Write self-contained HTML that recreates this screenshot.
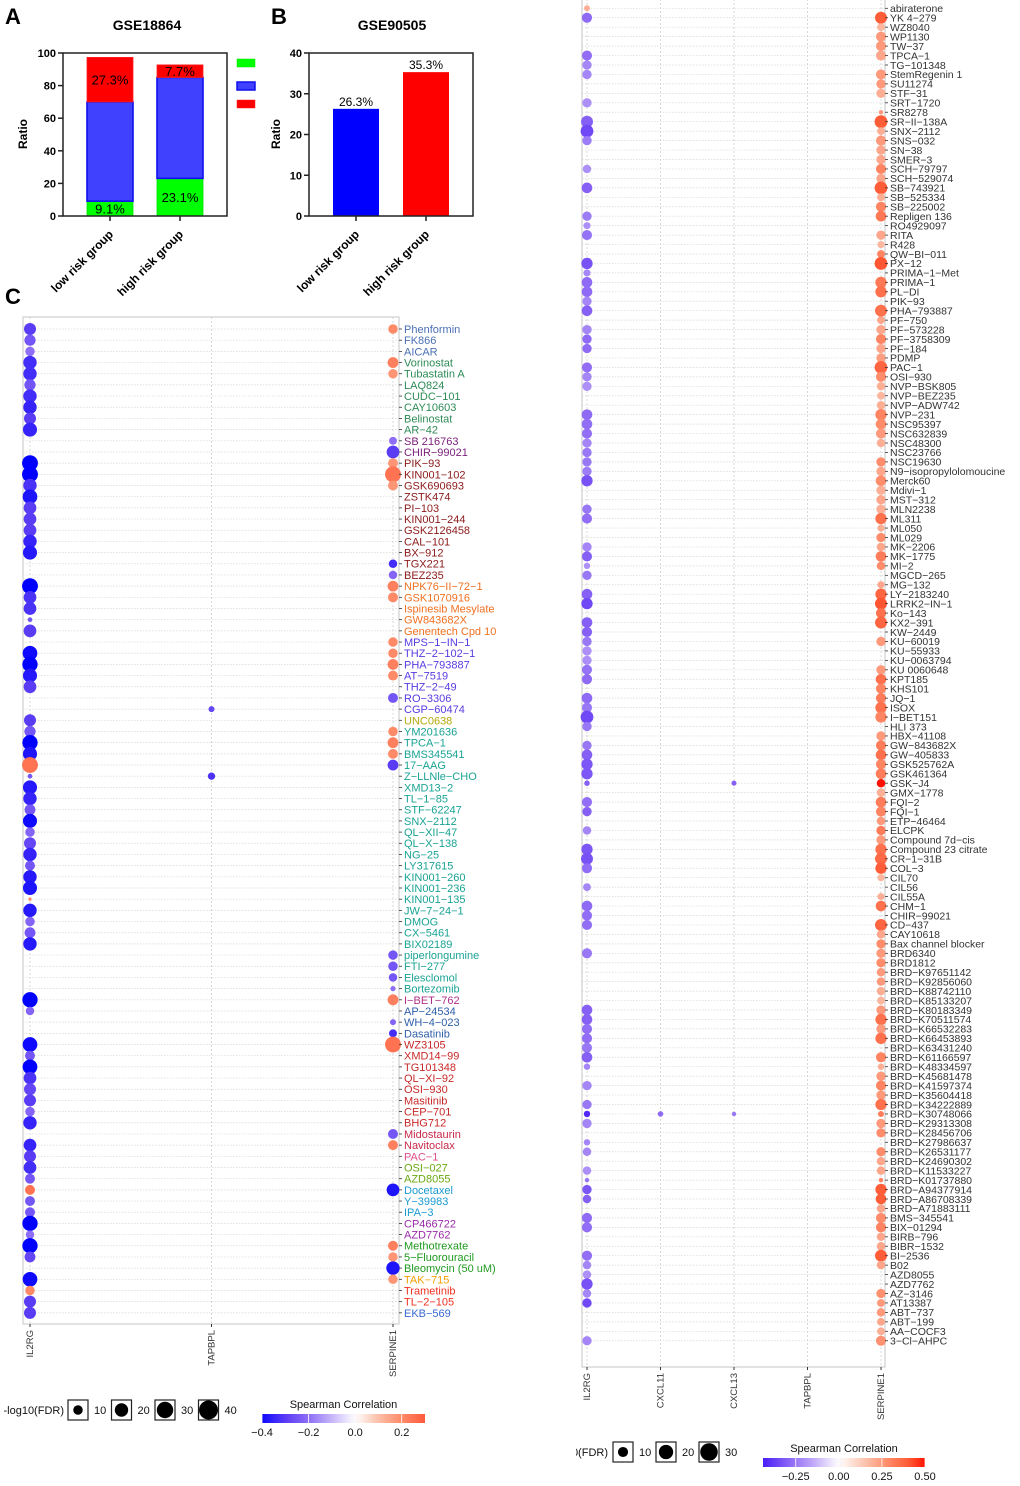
<!DOCTYPE html>
<html><head><meta charset="utf-8"><style>
html,body{margin:0;padding:0;background:#fff;}
svg{display:block;font-family:"Liberation Sans",Arial,sans-serif;}
</style></head><body>
<svg id="fig" width="1020" height="1486" viewBox="0 0 1020 1486" xmlns="http://www.w3.org/2000/svg">
<defs><clipPath id="clipRightTitle"><rect x="576" y="1400" width="100" height="80"/></clipPath></defs>
<g id="gA"></g>
<g id="gB"></g>
<g id="gL"></g>
<g id="gR"></g>
</svg>
<script>
// ---------- Panel A data ----------
const aCategories = ["low risk group","high risk group"];
const aGreen = [9.1, 23.1];
const aBlue = [60.9, 61.9];
const aRed = [27.3, 7.7];
const aGreenLabels = ["9.1%","23.1%"];
const aRedLabels = ["27.3%","7.7%"];
const aTicks = [0,20,40,60,80,100];
// ---------- Panel B data ----------
const bCategories = ["low risk group","high risk group"];
const bValues = [26.3, 35.3];
const bLabels = ["26.3%","35.3%"];
const bTicks = [0,10,20,30,40];

// ---------- Left dot plot data ----------
const leftGenes = ["IL2RG","TAPBPL","SERPINE1"];
const leftDrugs = ["Phenformin","FK866","AICAR","Vorinostat","Tubastatin A","LAQ824","CUDC\u2212101","CAY10603","Belinostat","AR\u221242",
"SB 216763","CHIR\u221299021","PIK\u221293","KIN001\u2212102","GSK690693","ZSTK474","PI\u2212103","KIN001\u2212244","GSK2126458","CAL\u2212101",
"BX\u2212912","TGX221","BEZ235","NPK76\u2212II\u221272\u22121","GSK1070916","Ispinesib Mesylate","GW843682X","Genentech Cpd 10","MPS\u22121\u2212IN\u22121","THZ\u22122\u2212102\u22121",
"PHA\u2212793887","AT\u22127519","THZ\u22122\u221249","RO\u22123306","CGP\u221260474","UNC0638","YM201636","TPCA\u22121","BMS345541","17\u2212AAG",
"Z\u2212LLNle\u2212CHO","XMD13\u22122","TL\u22121\u221285","STF\u221262247","SNX\u22122112","QL\u2212XII\u221247","QL\u2212X\u2212138","NG\u221225","LY317615","KIN001\u2212260",
"KIN001\u2212236","KIN001\u2212135","JW\u22127\u221224\u22121","DMOG","CX\u22125461","BIX02189","piperlongumine","FTI\u2212277","Elesclomol","Bortezomib",
"I\u2212BET\u2212762","AP\u221224534","WH\u22124\u2212023","Dasatinib","WZ3105","XMD14\u221299","TG101348","QL\u2212XI\u221292","OSI\u2212930","Masitinib",
"CEP\u2212701","BHG712","Midostaurin","Navitoclax","PAC\u22121","OSI\u2212027","AZD8055","Docetaxel","Y\u221239983","IPA\u22123",
"CP466722","AZD7762","Methotrexate","5\u2212Fluorouracil","Bleomycin (50 uM)","TAK\u2212715","Trametinib","TL\u22122\u2212105","EKB\u2212569"];
const leftIL2RGCorr = [-0.3,-0.25,-0.2,-0.33,-0.33,-0.25,-0.33,-0.35,-0.3,-0.35,
null,null,-0.42,-0.42,-0.32,-0.38,-0.3,-0.3,-0.3,-0.35,
-0.37,null,null,-0.42,-0.32,-0.32,-0.25,-0.3,null,-0.4,
-0.42,-0.37,-0.3,null,null,-0.3,-0.25,-0.42,-0.38,0.25,
-0.25,-0.37,-0.35,-0.25,-0.4,-0.22,-0.28,-0.35,-0.25,-0.37,
-0.38,0.2,-0.37,-0.22,-0.25,-0.37,null,null,null,null,
-0.42,-0.22,null,null,-0.4,-0.25,-0.42,-0.32,-0.28,-0.3,
-0.22,-0.35,null,-0.35,-0.3,-0.33,-0.25,0.25,-0.25,-0.25,
-0.42,-0.2,-0.42,-0.28,null,-0.4,0.2,-0.3,-0.3];
const leftIL2RGSize = [16,14,10,20,20,14,20,20,16,22,
null,null,28,28,20,24,18,18,18,20,
22,null,null,28,18,18,2.4,18,null,24,
26,22,18,null,null,16,14,26,22,28,
2.4,22,20,13,22,10,16,20,11,20,
22,1.2,20,10,13,20,null,null,null,null,
26,8,null,null,24,11,24,18,16,16,
10,20,null,18,16,18,11,11,11,11,
26,8,26,13,null,24,10,16,16];
const leftTAPBPLCorr = leftDrugs.map(() => null);
const leftTAPBPLSize = leftDrugs.map(() => null);
leftTAPBPLCorr[34] = -0.28; leftTAPBPLSize[34] = 4;
leftTAPBPLCorr[40] = -0.32; leftTAPBPLSize[40] = 6;
const leftSERPINE1Corr = [0.2,null,null,0.22,0.18,null,null,null,null,null,
-0.2,-0.3,0.18,0.25,0.18,null,null,null,null,null,
null,-0.33,-0.22,0.22,0.2,null,null,null,0.2,0.2,
0.22,0.2,null,-0.25,null,null,0.2,0.22,0.2,-0.3,
null,null,null,null,null,null,null,null,null,null,
null,null,null,null,null,null,-0.25,-0.25,-0.25,-0.2,
0.22,null,-0.22,-0.33,0.25,null,null,null,null,null,
null,null,-0.25,0.22,null,null,null,-0.38,null,null,
null,null,0.22,0.18,-0.38,0.18,null,null,null];
const leftSERPINE1Size = [10,null,null,13,10,null,null,null,null,null,
7,18,11,28,11,null,null,null,null,null,
null,8,8,13,11,null,null,null,10,10,
13,11,null,11,null,null,10,13,11,13,
null,null,null,null,null,null,null,null,null,null,
null,null,null,null,null,null,10,10,8,3,
13,null,4,7,28,null,null,null,null,null,
null,null,11,11,null,null,null,18,null,null,
null,null,11,10,20,10,null,null,null];
const leftSizeLegend = [10,20,30,40];
const leftColorTicks = [-0.4,-0.2,0.0,0.2];

// ---------- Right dot plot data ----------
const rightGenes = ["IL2RG","CXCL11","CXCL13","TAPBPL","SERPINE1"];
const rightDrugs = ["abiraterone","YK 4\u2212279","WZ8040","WP1130","TW\u221237","TPCA\u22121","TG\u2212101348","StemRegenin 1","SU11274","STF\u221231",
"SRT\u22121720","SR8278","SR\u2212II\u2212138A","SNX\u22122112","SNS\u2212032","SN\u221238","SMER\u22123","SCH\u221279797","SCH\u2212529074","SB\u2212743921",
"SB\u2212525334","SB\u2212225002","Repligen 136","RO4929097","RITA","R428","QW\u2212BI\u2212011","PX\u221212","PRIMA\u22121\u2212Met","PRIMA\u22121",
"PL\u2212DI","PIK\u221293","PHA\u2212793887","PF\u2212750","PF\u2212573228","PF\u22123758309","PF\u2212184","PDMP","PAC\u22121","OSI\u2212930",
"NVP\u2212BSK805","NVP\u2212BEZ235","NVP\u2212ADW742","NVP\u2212231","NSC95397","NSC632839","NSC48300","NSC23766","NSC19630","N9\u2212isopropylolomoucine",
"Merck60","Mdivi\u22121","MST\u2212312","MLN2238","ML311","ML050","ML029","MK\u22122206","MK\u22121775","MI\u22122",
"MGCD\u2212265","MG\u2212132","LY\u22122183240","LRRK2\u2212IN\u22121","Ko\u2212143","KX2\u2212391","KW\u22122449","KU\u221260019","KU\u221255933","KU\u22120063794",
"KU 0060648","KPT185","KHS101","JQ\u22121","ISOX","I\u2212BET151","HLI 373","HBX\u221241108","GW\u2212843682X","GW\u2212405833",
"GSK525762A","GSK461364","GSK\u2212J4","GMX\u22121778","FQI\u22122","FQI\u22121","ETP\u221246464","ELCPK","Compound 7d\u2212cis","Compound 23 citrate",
"CR\u22121\u221231B","COL\u22123","CIL70","CIL56","CIL55A","CHM\u22121","CHIR\u221299021","CD\u2212437","CAY10618","Bax channel blocker",
"BRD6340","BRD1812","BRD\u2212K97651142","BRD\u2212K92856060","BRD\u2212K88742110","BRD\u2212K85133207","BRD\u2212K80183349","BRD\u2212K70511574","BRD\u2212K66532283","BRD\u2212K66453893",
"BRD\u2212K63431240","BRD\u2212K61166597","BRD\u2212K48334597","BRD\u2212K45681478","BRD\u2212K41597374","BRD\u2212K35604418","BRD\u2212K34222889","BRD\u2212K30748066","BRD\u2212K29313308","BRD\u2212K28456706",
"BRD\u2212K27986637","BRD\u2212K26531177","BRD\u2212K24690302","BRD\u2212K11533227","BRD\u2212K01737880","BRD\u2212A94377914","BRD\u2212A86708339","BRD\u2212A71883111","BMS\u2212345541","BIX\u221201294",
"BIRB\u2212796","BIBR\u22121532","BI\u22122536","B02","AZD8055","AZD7762","AZ\u22123146","AT13387","ABT\u2212737","ABT\u2212199",
"AA\u2212COCF3","3\u2212Cl\u2212AHPC"];
const rightIL2RGCorr = [0.2,-0.28,null,null,null,-0.27,-0.22,-0.22,null,null,
-0.2,null,-0.3,-0.35,-0.24,null,null,-0.2,null,-0.3,
null,null,-0.24,-0.2,-0.26,null,null,-0.33,-0.22,-0.28,
-0.28,-0.22,-0.3,null,-0.22,-0.28,-0.28,null,-0.27,-0.22,
-0.2,null,null,-0.28,-0.27,-0.27,-0.22,-0.25,-0.25,-0.24,
-0.33,null,null,-0.25,-0.27,null,null,-0.22,-0.3,-0.2,
-0.25,null,-0.3,-0.35,null,-0.3,-0.3,-0.25,-0.2,-0.2,
-0.26,-0.28,null,-0.28,-0.25,-0.35,-0.25,null,-0.25,-0.3,
-0.32,-0.32,-0.3,null,-0.27,-0.3,null,-0.22,null,-0.32,
-0.33,-0.27,null,-0.22,null,-0.28,-0.27,-0.27,null,null,
-0.25,null,null,null,null,null,-0.3,-0.3,-0.27,-0.27,
-0.25,-0.3,-0.22,null,-0.22,null,-0.25,-0.42,-0.22,null,
-0.22,-0.22,null,-0.2,-0.25,-0.32,-0.3,null,-0.28,-0.27,
null,null,-0.27,-0.22,-0.2,-0.33,-0.22,-0.35,null,null,
null,-0.22];
const rightIL2RGSize = [3.5,10,null,null,null,10,8.5,8.5,null,null,
8.5,null,14,16,8.5,null,null,7,null,11,
null,null,8.5,5,10,null,null,12.5,5,11,
11,8.5,11,null,8.5,8.5,8.5,null,10,8.5,
8.5,null,null,11,11,10,8.5,8.5,8.5,8.5,
12.5,null,null,8.5,10,null,null,8.5,10,4,
8.5,null,11,12.5,null,11,10,8.5,8.5,8.5,
10,10,null,11,10,16,8.5,null,8.5,11,
12.5,12.5,3,null,10,8.5,null,7,null,12.5,
14,10,null,6,null,11,10,10,null,null,
10,null,null,null,null,null,11,11,10,10,
10,11,4,null,8.5,null,8.5,4,8.5,null,
4,7,null,7,2,8.5,7,null,10,10,
null,null,10,7,7,12.5,7,8.5,null,null,
null,8.5];
const rightCXCL11Corr = rightDrugs.map(() => null);
const rightCXCL11Size = rightDrugs.map(() => null);
rightCXCL11Corr[117] = -0.28; rightCXCL11Size[117] = 3;
const rightCXCL13Corr = rightDrugs.map(() => null);
const rightCXCL13Size = rightDrugs.map(() => null);
rightCXCL13Corr[82] = -0.3; rightCXCL13Size[82] = 2.5;
rightCXCL13Corr[117] = -0.25; rightCXCL13Size[117] = 2;
const rightTAPBPLCorr = rightDrugs.map(() => null);
const rightTAPBPLSize = rightDrugs.map(() => null);
const rightSERPINE1Corr = [null,0.4,0.18,0.25,0.25,0.22,null,0.25,0.25,0.2,
null,0.25,0.4,0.2,0.25,0.22,0.22,0.3,0.22,0.4,
0.2,0.3,0.33,null,0.22,0.18,0.3,0.42,null,0.33,
0.35,null,0.35,0.22,0.22,0.3,0.22,0.24,0.38,0.28,
0.2,0.18,0.2,0.3,0.28,0.25,0.2,null,0.28,0.22,
0.28,0.2,0.22,0.2,0.35,0.2,0.28,0.22,0.32,0.28,
null,0.22,0.38,0.42,0.35,0.38,null,0.25,null,null,
0.25,0.35,0.3,0.32,0.35,0.3,null,0.25,0.32,0.35,
0.3,0.32,0.5,0.2,0.32,0.3,0.25,0.32,0.25,0.35,
0.37,0.4,0.18,null,0.2,0.35,null,0.38,0.22,0.28,
0.25,0.28,0.25,0.25,0.2,0.18,0.25,0.35,0.25,0.35,
null,0.3,0.2,0.25,0.3,0.25,0.35,0.32,0.25,0.28,
null,0.28,0.22,0.22,0.3,0.4,0.4,0.22,0.28,0.3,
0.22,0.22,0.4,0.22,null,null,0.27,0.25,0.25,0.22,
0.2,0.27];
const rightSERPINE1Size = [null,14,6,10,10,10,null,10,8.5,8.5,
null,2,16,6,10,8.5,8.5,10,8.5,16,
6,10,11,null,8.5,5,6,16,null,12.5,
12.5,null,14,6,8.5,10,8.5,8.5,16,10,
7,6,7,12.5,11,10,7,null,8.5,8.5,
11,8.5,8.5,8.5,12.5,5,8.5,7,11,7,
null,5,12.5,14,10,14,null,8.5,null,null,
8.5,11,10,10,12.5,12.5,null,8.5,10,11,
10,11,7,7,11,10,7,8.5,8.5,12.5,
14,12.5,5,null,5,11,null,14,7,8.5,
8.5,8.5,7,7,7,6,8.5,12.5,8.5,12.5,
null,10,4,8.5,10,8.5,12.5,3.5,8.5,8.5,
null,8.5,7,7,2,12.5,11,7,10,10,
7,7,14,7,null,null,8.5,6,7,6,
6,10];
const rightSizeLegend = [10,20,30];
const rightColorTicks = [-0.25,0.0,0.25,0.5];

// ---------- helpers ----------
const NS = "http://www.w3.org/2000/svg";
function mk(parent, tag, attrs, text){
  const e = document.createElementNS(NS, tag);
  for (const k in attrs) e.setAttribute(k, attrs[k]);
  if (text !== undefined) e.textContent = text;
  parent.appendChild(e);
  return e;
}
function hex(c){return [parseInt(c.slice(1,3),16),parseInt(c.slice(3,5),16),parseInt(c.slice(5,7),16)];}
function interp(stops, v){
  if (v <= stops[0][0]) return stops[0][1];
  if (v >= stops[stops.length-1][0]) return stops[stops.length-1][1];
  for (let i=0;i<stops.length-1;i++){
    const a=stops[i], b=stops[i+1];
    if (v>=a[0] && v<=b[0]){
      const t=(v-a[0])/(b[0]-a[0]); const ca=hex(a[1]), cb=hex(b[1]);
      return "rgb("+ca.map((x,j)=>Math.round(x+(cb[j]-x)*t)).join(",")+")";
    }
  }
}
const leftStops = [[-0.42,"#0000ff"],[-0.3,"#5a3cf5"],[-0.2,"#8e6ef6"],[-0.1,"#c6b6fa"],[0,"#ffffff"],[0.1,"#fbbfa8"],[0.2,"#ff8a68"],[0.3,"#ff5a3c"]];
const rightStops = [[-0.44,"#4a1ef8"],[-0.3,"#8660f5"],[-0.15,"#c0a8f8"],[0,"#ffffff"],[0.15,"#fcc4ae"],[0.3,"#ff8462"],[0.42,"#ff5530"],[0.5,"#ff1000"]];

// ---------- Panel A ----------
(function(){
  const g = document.getElementById("gA");
  const x0=63,x1=227,yTop=53,yBot=216;
  const ys = v => yBot - (v/100)*(yBot-yTop);
  const bx = i => 87 + i*70, bw = 46;
  let t=mk(g,"text",{x:5,y:24,"font-size":22,"font-weight":"bold"},"A");
   
  t=mk(g,"text",{x:147,y:30,"font-size":14,"font-weight":"bold","text-anchor":"middle"},"GSE18864");
   
  t=mk(g,"text",{x:27,y:134,"font-size":12,"font-weight":"bold","text-anchor":"middle",transform:"rotate(-90 27 134)"},"Ratio");
   
  aCategories.forEach((c,i)=>{
    const segs=[[0,aGreen[i],"#00ff00","#00e000"],[aGreen[i],aGreen[i]+aBlue[i],"#4040ff","#1010ee"],[aGreen[i]+aBlue[i],aGreen[i]+aBlue[i]+aRed[i],"#ff0000","#ff2020"]];
    segs.forEach((s,k)=>{
      const r=mk(g,"rect",{x:bx(i),y:ys(s[1]),width:bw,height:ys(s[0])-ys(s[1]),fill:s[2],stroke:s[3],"stroke-width":k==1?1.6:0.8});
       
    });
    let l=mk(g,"text",{x:bx(i)+bw/2,y:ys(aGreen[i]/2)+5,"font-size":13,"text-anchor":"middle"},aGreenLabels[i]);
     
    const redMid = aGreen[i]+aBlue[i]+aRed[i]/2;
    l=mk(g,"text",{x:bx(i)+bw/2,y:ys(redMid)+5,"font-size":13,"text-anchor":"middle"},aRedLabels[i]);
     
    const tx=bx(i)+bw/2;
    mk(g,"line",{x1:tx,y1:yBot,x2:tx,y2:yBot+5,stroke:"#222","stroke-width":1.5});
    l=mk(g,"text",{x:tx+4,y:yBot+19,"font-size":12,"font-weight":"bold","text-anchor":"end",transform:"rotate(-45 "+(tx+4)+" "+(yBot+19)+")"},c);
     
  });
  aTicks.forEach(v=>{
    mk(g,"line",{x1:x0-5,y1:ys(v),x2:x0,y2:ys(v),stroke:"#222","stroke-width":1.5});
    const l=mk(g,"text",{x:x0-7,y:ys(v)+4,"font-size":11,"font-weight":"bold","text-anchor":"end"},String(v));
     
  });
  const fr=mk(g,"rect",{x:x0,y:yTop,width:x1-x0,height:yBot-yTop,fill:"none",stroke:"#222","stroke-width":1.5});
   
  [["#00ff00","#00e000",63],["#4040ff","#1010ee",86],["#ff0000","#ff2020",104]].forEach((s,k)=>{
    const r=mk(g,"rect",{x:237,y:s[2]-4,width:18,height:8,fill:s[0],stroke:s[1],"stroke-width":k==1?1.5:0.5});
     
  });
})();

// ---------- Panel B ----------
(function(){
  const g = document.getElementById("gB");
  const x0=309,x1=473,yTop=53,yBot=216;
  const ys = v => yBot - (v/40)*(yBot-yTop);
  const bx = i => 333 + i*70, bw = 46;
  const cols=["#0000ff","#ff0000"];
  let t=mk(g,"text",{x:271,y:24,"font-size":22,"font-weight":"bold"},"B");
   
  t=mk(g,"text",{x:392,y:30,"font-size":14,"font-weight":"bold","text-anchor":"middle"},"GSE90505");
   
  t=mk(g,"text",{x:280,y:134,"font-size":12,"font-weight":"bold","text-anchor":"middle",transform:"rotate(-90 280 134)"},"Ratio");
   
  bCategories.forEach((c,i)=>{
    const r=mk(g,"rect",{x:bx(i),y:ys(bValues[i]),width:bw,height:yBot-ys(bValues[i]),fill:cols[i]});
     
    let l=mk(g,"text",{x:bx(i)+bw/2,y:ys(bValues[i])-3,"font-size":12,"text-anchor":"middle"},bLabels[i]);
     
    const tx=bx(i)+bw/2;
    mk(g,"line",{x1:tx,y1:yBot,x2:tx,y2:yBot+5,stroke:"#222","stroke-width":1.5});
    l=mk(g,"text",{x:tx+4,y:yBot+19,"font-size":12,"font-weight":"bold","text-anchor":"end",transform:"rotate(-45 "+(tx+4)+" "+(yBot+19)+")"},c);
     
  });
  bTicks.forEach(v=>{
    mk(g,"line",{x1:x0-5,y1:ys(v),x2:x0,y2:ys(v),stroke:"#222","stroke-width":1.5});
    const l=mk(g,"text",{x:x0-7,y:ys(v)+4,"font-size":11,"font-weight":"bold","text-anchor":"end"},String(v));
     
  });
  const fr=mk(g,"rect",{x:x0,y:yTop,width:x1-x0,height:yBot-yTop,fill:"none",stroke:"#222","stroke-width":1.5});
   
  const c=mk(g,"text",{x:5,y:304,"font-size":22,"font-weight":"bold"},"C");
   
})();

// ---------- Generic dot plot ----------
function dotPlot(cfg){
  const g = cfg.g;
  const ry = i => cfg.rowY0 + i*cfg.rowStep;
  const cx = j => cfg.colX0 + j*cfg.colStep;
  const rad = s => Math.sqrt(s)*cfg.rk;
  const fr=mk(g,"rect",{x:cfg.box[0],y:cfg.box[1],width:cfg.box[2]-cfg.box[0],height:cfg.box[3]-cfg.box[1],fill:"#fff",stroke:"#cfcfcf","stroke-width":1.2});
   
  cfg.drugs.forEach((d,i)=>{
    mk(g,"line",{x1:cfg.box[0],y1:ry(i),x2:cfg.box[2],y2:ry(i),stroke:"#d6d6d6","stroke-width":0.7,"stroke-dasharray":"1.5,1.5"});
  });
  cfg.genes.forEach((gn,j)=>{
    mk(g,"line",{x1:cx(j),y1:cfg.box[1],x2:cx(j),y2:cfg.box[3],stroke:"#d0d0d0","stroke-width":0.8,"stroke-dasharray":"2,2"});
    mk(g,"line",{x1:cx(j),y1:cfg.box[3],x2:cx(j),y2:cfg.box[3]+3,stroke:"#333","stroke-width":1});
    const yy=cfg.box[3]+6;
    const l=mk(g,"text",{x:cx(j)+3,y:yy,"font-size":cfg.xfs,"fill":"#333","text-anchor":"end",transform:"rotate(-90 "+(cx(j)+3)+" "+yy+")"},gn);
     
  });
  cfg.genes.forEach((gn,j)=>{
    const corr=cfg.corr[j], size=cfg.size[j];
    cfg.drugs.forEach((d,i)=>{
      if (corr[i]===null || size[i]===null) return;
      const c=mk(g,"circle",{cx:cx(j),cy:ry(i),r:rad(size[i]).toFixed(2),fill:interp(cfg.stops,corr[i])});
      
      
    });
  });
  cfg.drugs.forEach((d,i)=>{
    mk(g,"line",{x1:cfg.box[2],y1:ry(i),x2:cfg.box[2]+3,y2:ry(i),stroke:"#333","stroke-width":0.8});
    const l=mk(g,"text",{x:cfg.box[2]+5,y:ry(i)+cfg.lfs*0.36,"font-size":cfg.lfs,fill:cfg.labelColor(i)},d);
     
  });
  const L=cfg.legend;
  const tattrs={x:L.titleX,y:L.y+4,"font-size":11,"text-anchor":"end",fill:"#111"};
  if (cfg.titleClip) tattrs["clip-path"]="url(#"+cfg.titleClip+")";
  let t=mk(g,"text",tattrs,"-log10(FDR)");
   
  cfg.sizeLegend.forEach((s,k)=>{
    const bx=L.x0+k*L.step;
    const b=mk(g,"rect",{x:bx,y:L.y-10,width:20,height:20,fill:"#fff",stroke:"#222","stroke-width":1.2});
     
    mk(g,"circle",{cx:bx+10,cy:L.y,r:rad(s).toFixed(2),fill:"#000"});
    const l=mk(g,"text",{x:bx+26,y:L.y+4,"font-size":11,fill:"#111"},String(s));
     
  });
  const C=cfg.cbar;
  const gid=cfg.id+"grad";
  const defs=mk(g,"defs",{});
  const lg=mk(defs,"linearGradient",{id:gid,x1:"0",x2:"1",y1:"0",y2:"0"});
  for(let k=0;k<=20;k++){
    const v=C.vmin+(C.vmax-C.vmin)*k/20;
    mk(lg,"stop",{offset:(k*5)+"%","stop-color":interp(cfg.stops,v)});
  }
  const cb=mk(g,"rect",{x:C.x0,y:C.y,width:C.x1-C.x0,height:9,fill:"url(#"+gid+")"});
   
  t=mk(g,"text",{x:(C.x0+C.x1)/2,y:C.y-6,"font-size":11,"text-anchor":"middle",fill:"#111"},"Spearman Correlation");
   
  const cxs=v=>C.x0+(v-C.vmin)/(C.vmax-C.vmin)*(C.x1-C.x0);
  cfg.colorTicks.forEach(v=>{
    mk(g,"line",{x1:cxs(v),y1:C.y,x2:cxs(v),y2:C.y+9,stroke:"#fff","stroke-width":0.8});
    const l=mk(g,"text",{x:cxs(v),y:C.y+22,"font-size":11,"text-anchor":"middle",fill:"#111"},v===0?"0.0"+(cfg.id==="R"?"0":""):(cfg.id==="R"?v.toFixed(2):v.toFixed(1)).replace("-","\u2212"));
     
  });
}

const leftGroupColors = [["#4a6fb5",3],["#2e8b57",7],["#7b1f7b",2],["#8b1a1a",11],["#f07020",5],["#5a3adf",7],["#b5a80a",1],["#1aa394",24],["#b0308a",1],["#2f5fa8",3],["#c82828",8],["#c8284a",2],["#e04d8a",1],["#6aa812",2],["#1a9ad0",3],["#9a2aa8",2],["#1f9a1f",3],["#f5a000",1],["#f03020",2],["#3a6ad0",1]];
const leftLabelColorList=[];
leftGroupColors.forEach(gc=>{for(let k=0;k<gc[1];k++) leftLabelColorList.push(gc[0]);});

dotPlot({g:document.getElementById("gL"),id:"L",genes:leftGenes,drugs:leftDrugs,
  corr:[leftIL2RGCorr,leftTAPBPLCorr,leftSERPINE1Corr],size:[leftIL2RGSize,leftTAPBPLSize,leftSERPINE1Size],
  box:[23,317,399,1324],rowY0:329,rowStep:11.18,colX0:30,colStep:181.5,rk:1.5,stops:leftStops,
  lfs:11,xfs:9.5,labelColor:i=>leftLabelColorList[i]||"#333",
  sizeLegend:leftSizeLegend,legend:{titleX:64,x0:68,step:43.5,y:1410},
  cbar:{x0:262,x1:425,y:1414,vmin:-0.4,vmax:0.3},colorTicks:leftColorTicks});

dotPlot({g:document.getElementById("gR"),id:"R",genes:rightGenes,drugs:rightDrugs,
  corr:[rightIL2RGCorr,rightCXCL11Corr,rightCXCL13Corr,rightTAPBPLCorr,rightSERPINE1Corr],
  size:[rightIL2RGSize,rightCXCL11Size,rightCXCL13Size,rightTAPBPLSize,rightSERPINE1Size],
  box:[582,-1,885,1367],rowY0:8.3,rowStep:9.45,colX0:587,colStep:73.5,rk:1.6,stops:rightStops,
  lfs:10.5,xfs:9.5,labelColor:i=>"#333",titleClip:"clipRightTitle",
  sizeLegend:rightSizeLegend,legend:{titleX:608,x0:613,step:43,y:1452},
  cbar:{x0:763,x1:925,y:1458,vmin:-0.44,vmax:0.5},colorTicks:rightColorTicks});
</script>
</body></html>
